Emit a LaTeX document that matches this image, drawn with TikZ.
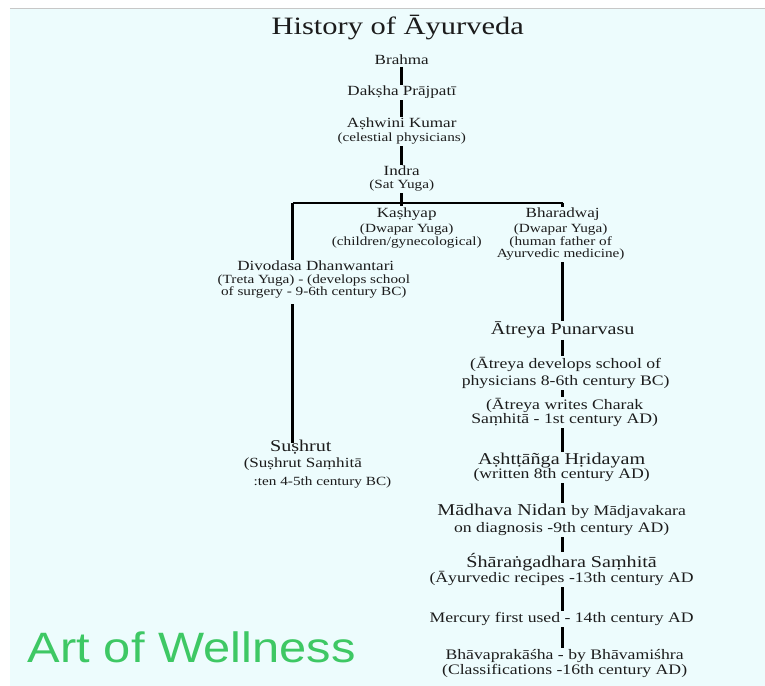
\documentclass[tikz,border=0pt]{standalone}
\usepackage{fontspec}
\setmainfont{Liberation Serif}[FakeStretch=1.22]
\newfontfamily\brandfont{Liberation Sans}[FakeStretch=1.15]
\usetikzlibrary{positioning,calc}

\definecolor{bgcyan}{RGB}{237,252,253}
\definecolor{ink}{RGB}{28,28,28}
\definecolor{brandgreen}{RGB}{62,200,100}

\begin{document}
\begin{tikzpicture}[
    x=1pt, y=-1pt,
    every node/.style={inner sep=1.5pt, outer sep=0pt, text=ink},
    heading/.style={font=\fontsize{25}{28}\selectfont, anchor=base},
    person/.style={font=\fontsize{14}{16}\selectfont, anchor=base, align=center},
    bigperson/.style={font=\fontsize{16.5}{18}\selectfont, anchor=base, align=center},
    smallnote/.style={font=\fontsize{12.5}{13}\selectfont, anchor=base, align=center},
    rightnote/.style={font=\fontsize{14.5}{17}\selectfont, anchor=base, align=center},
    link/.style={line width=2.7pt, draw=black},
]

% Page and background
\fill[white] (0,0) rectangle (765,686);
\fill[bgcyan] (10,9) rectangle (765,686);
\draw[black!22, line width=1pt] (10,8.5) -- (765,8.5);
\useasboundingbox (0,0) rectangle (765,686);

\node[heading] (heading) at (398,35) {History of Āyurveda};

% Main line
\node[person] (brahma) at (402,65) {Brahma};
\node[person] (daksha) at (402,96) {Dakṣha Prājpatī};
\node[person] (ashwini) at (402,128) {Aṣhwini Kumar};
\node[smallnote] (ashwininote) at (402,142) {(celestial physicians)};
\node[person] (indra) at (402,176) {Indra};
\node[smallnote] (indranote) at (402,189) {(Sat Yuga)};

\draw[link] (brahma) -- (daksha);
\draw[link] (daksha) -- (ashwini);
\draw[link] (ashwininote) -- (indra);

% Branches (multi-line nodes sit on their last baseline)
\coordinate (fork) at (402,203);
\coordinate (forkL) at (293,203);
\coordinate (forkR) at (563,203);

\node[person] (kashyap) at (407,218) {Kaṣhyap};
\node[smallnote, font=\fontsize{12.5}{13}\selectfont] (kashyapnote) at (407,246) {(Dwapar Yuga)\\(children/gynecological)};

\node[person] (bharadwaj) at (563,218) {Bharadwaj};
\node[smallnote, font=\fontsize{12.5}{12.5}\selectfont] (bharnote) at (561,258) {(Dwapar Yuga)\\(human father of\\Ayurvedic medicine)};

\node[person] (divodasa) at (316,271) {Divodasa Dhanwantari};
\node[smallnote, font=\fontsize{12.5}{12}\selectfont] (divnote) at (314,296) {(Treta Yuga) - (develops school\\of surgery - 9-6th century BC)};

\draw[link] (indranote) -- ($(fork)+(0,3)$);
\draw[link] (forkL) -- (forkR);
\draw[link] (forkL) -- (divodasa.north -| forkL);
\draw[link] (forkR) -- (bharadwaj.north -| forkR);

% Left column
\node[bigperson] (sushrut) at (301,452) {Suṣhrut};
\node[rightnote, font=\fontsize{14}{16}\selectfont] (sushnote) at (303,468) {(Suṣhrut Saṃhitā};
\node[rightnote, font=\fontsize{12.5}{14}\selectfont, anchor=base east] (sushdate) at (393,486) {:ten 4-5th century BC)};

\draw[link, shorten <=4pt, shorten >=-4pt] (divnote.south -| forkL) -- (sushrut.north -| forkL);

% Right column
\node[bigperson] (atreya) at (563,335) {Ātreya Punarvasu};
\node[rightnote] (atreyanote) at (566,386) {(Ātreya develops school of\\physicians 8-6th century BC)};
\node[rightnote, font=\fontsize{14.5}{14}\selectfont] (charak) at (565,424) {(Ātreya writes Charak\\Saṃhitā - 1st century AD)};
\node[bigperson] (ashtanga) at (562,465) {Aṣhtṭāñga Hṛidayam};
\node[rightnote] (ashtanganote) at (562,479) {(written 8th century AD)};
\node[bigperson] (madhava) at (562,516) {Mādhava Nidan {\fontsize{14.5}{17}\selectfont by Mādjavakara}};
\node[rightnote] (madhavanote) at (562,533) {on diagnosis -9th century AD)};
\node[bigperson] (sharanga) at (562,568) {Śhāraṅgadhara Saṃhitā};
\node[rightnote] (sharanganote) at (562,583) {(Āyurvedic recipes -13th century AD};
\node[rightnote] (mercury) at (562,623) {Mercury first used - 14th century AD};
\node[rightnote] (bhava) at (565,660) {Bhāvaprakāśha - by Bhāvamiśhra};
\node[rightnote] (bhavanote) at (565,675) {(Classifications -16th century AD)};

\draw[link] (bharnote.south -| forkR) -- (atreya.north -| forkR);
\draw[link] (atreya.south -| forkR) -- (atreyanote.north -| forkR);
\draw[link] (atreyanote.south -| forkR) -- (charak.north -| forkR);
\draw[link] (charak.south -| forkR) -- (ashtanga.north -| forkR);
\draw[link] (ashtanganote.south -| forkR) -- (madhava.north -| forkR);
\draw[link] (madhavanote.south -| forkR) -- (sharanga.north -| forkR);
\draw[link] (sharanganote.south -| forkR) -- (mercury.north -| forkR);
\draw[link] (mercury.south -| forkR) -- (bhava.north -| forkR);

% Brand
\node[anchor=base west, inner sep=0pt, text=brandgreen, font=\brandfont\fontsize{42.5}{46}\selectfont] (brand) at (28,663) {Art of Wellness};

\end{tikzpicture}
\end{document}
